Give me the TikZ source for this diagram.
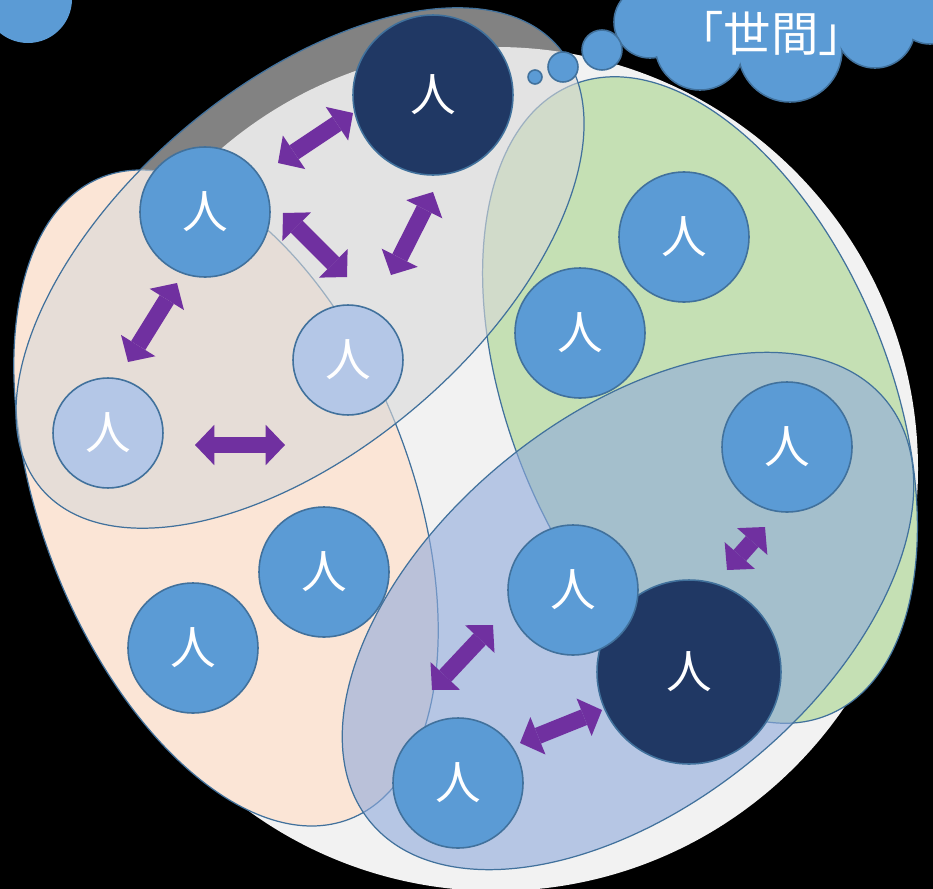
\documentclass[tikz,border=0pt]{standalone}
\usepackage{fontspec}
\newfontfamily\cjk{Noto Sans CJK JP}
\usetikzlibrary{arrows.meta}
\definecolor{world}{HTML}{F2F2F2}
\definecolor{peach}{HTML}{FBE5D6}
\definecolor{lgreen}{HTML}{C5E0B4}
\definecolor{lgray}{HTML}{D9D9D9}
\definecolor{lblueE}{HTML}{8FAADC}
\definecolor{edgec}{HTML}{41719C}
\definecolor{pblue}{HTML}{5B9BD5}
\definecolor{plight}{HTML}{B4C7E7}
\definecolor{pdark}{HTML}{203864}
\definecolor{arrowc}{HTML}{7030A0}
\begin{document}
\begin{tikzpicture}[x=0.02cm,y=-0.02cm,
  person/.style={circle, draw=edgec, line width=0.9pt, inner sep=0pt, text=white,
    font=\cjk\fontsize{26}{26}\selectfont},
  pmid/.style={person, minimum size=2.6cm},
  psmall/.style={person, minimum size=2.2cm},
  group/.style={draw=edgec, line width=0.7pt},
  darr/.style={draw=arrowc, line width=9.5pt,
    {Triangle[width=23pt,length=11pt,line width=0pt]}-{Triangle[width=23pt,length=11pt,line width=0pt]}},
  lobe/.style={draw=edgec, line width=0.9pt, fill=pblue}]
\useasboundingbox (0,0) rectangle (933,889);
\fill[black] (0,0) rectangle (933,889);
\begin{scope}
\clip (0,0) rectangle (933,889);
% partial circle top left
\fill[pblue] (28,-1) circle [radius=44];
% world
\fill[world] (496,469) circle [radius=422];
% groups
\path[group, fill=peach, rotate around={-69:(226,498)}] (226,498) ellipse [x radius=344, y radius=185];
\path[group, fill=lgreen, rotate around={-68:(700,400)}] (700,400) ellipse [x radius=340, y radius=190];
\path[group, fill=lgray, fill opacity=0.6, rotate around={40.5:(300,268)}] (300,268) ellipse [x radius=340, y radius=181];
\path[group, fill=lblueE, fill opacity=0.6, rotate around={39.2:(628,611)}] (628,611) ellipse [x radius=333, y radius=194];
% cloud
\foreach \cx/\cy/\r in {650/22/36, 700/45/45, 790/50/52, 875/28/40, 930/8/36, 760/-10/60, 850/-10/50, 680/-5/40}
  \draw[lobe] (\cx,\cy) circle [radius=\r];
\foreach \cx/\cy/\r in {650/22/36, 700/45/45, 790/50/52, 875/28/40, 930/8/36, 760/-10/60, 850/-10/50, 680/-5/40}
  \fill[pblue] (\cx,\cy) circle [radius=\r-1.2];
\end{scope}
% thought bubbles
\node[lobe, circle, inner sep=0pt, minimum size=0.28cm] (b1) at (535,77) {};
\node[lobe, circle, inner sep=0pt, minimum size=0.6cm] (b2) at (563,67) {};
\node[lobe, circle, inner sep=0pt, minimum size=0.8cm] (b3) at (602,50) {};
\node[text=white, font=\cjk\fontsize{27}{27}\selectfont] (seken) at (771,33) {「世間」};
% people
\node[pmid, fill=pdark, minimum size=3.2cm] (p1) at (433,95) {人};
\node[pmid, fill=pblue] (p2) at (205,212) {人};
\node[psmall, fill=plight] (p3) at (348,360) {人};
\node[psmall, fill=plight] (p4) at (108,433) {人};
\node[pmid, fill=pblue] (p5) at (684,237) {人};
\node[pmid, fill=pblue] (p6) at (580,333) {人};
\node[pmid, fill=pblue] (p7) at (787,447) {人};
\node[pmid, fill=pblue] (p8) at (324,572) {人};
\node[pmid, fill=pblue] (p9) at (193,648) {人};
\node[pmid, fill=pdark, minimum size=3.68cm] (p11) at (689,672) {人};
\node[pmid, fill=pblue] (p10) at (573,590) {人};
\node[pmid, fill=pblue] (p12) at (458,783) {人};
% arrow ends
\coordinate (a1s) at (278,163); \coordinate (a1e) at (353,113);
\coordinate (a2s) at (283,213); \coordinate (a2e) at (347,277);
\coordinate (a3s) at (433,192); \coordinate (a3e) at (391,275);
\coordinate (a4s) at (177,283); \coordinate (a4e) at (128,362);
\coordinate (a5s) at (195,445); \coordinate (a5e) at (285,445);
\coordinate (a6s) at (493,625); \coordinate (a6e) at (432,690);
\coordinate (a7s) at (520,743); \coordinate (a7e) at (602,710);
\coordinate (a8s) at (727,570); \coordinate (a8e) at (765,527);
\foreach \i in {1,...,8} \draw[darr] (a\i s) -- (a\i e);
\end{tikzpicture}
\end{document}
